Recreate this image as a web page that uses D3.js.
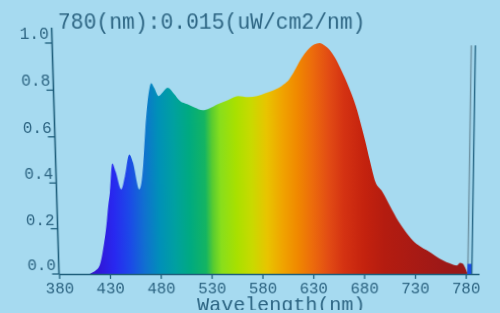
<!DOCTYPE html>
<html><head><meta charset="utf-8">
<script src="https://cdn.jsdelivr.net/npm/d3@7"></script>
<style>
html,body{margin:0;padding:0;background:#a6daf0;overflow:hidden;width:500px;height:313px}
svg{display:block;transform-origin:250px 156.5px;transform:perspective(800px) rotateX(-5deg) skewX(0.5deg)}
</style></head>
<body>
<svg id="c" width="500" height="313"></svg>
<script>
// ---- data ----
const titleText = "780(nm):0.015(uW/cm2/nm)";
const xLabel = "Wavelength(nm)";
const xTicks = [380, 430, 480, 530, 580, 630, 680, 730, 780];
const yTicks = [0.0, 0.2, 0.4, 0.6, 0.8, 1.0];
const wavelengths = [405, 410, 412.4, 416, 420.3, 424, 428.2, 430, 432, 435, 438, 443, 447, 451.7, 455, 460.6, 462.6, 465, 467.5, 471.4, 474.3, 477, 481.2, 485, 490, 496, 501.9, 508.7, 516, 523.5, 530, 538.2, 548, 557.9, 567.7, 576, 584.4, 592, 597.2, 602, 607, 612, 616.9, 622, 626.7, 631, 636.5, 641, 646.3, 651, 656.2, 661, 666, 672.9, 676, 680.7, 685, 690.6, 697, 705, 713.2, 720, 727.9, 735, 741.7, 750, 757.4, 764, 771.2, 774, 777, 779, 781, 782];
const intensity =   [0, 0, 0.005, 0.015, 0.04, 0.11, 0.23, 0.30, 0.36, 0.485, 0.45, 0.372, 0.43, 0.524, 0.49, 0.372, 0.394, 0.48, 0.62, 0.78, 0.83, 0.81, 0.775, 0.79, 0.81, 0.785, 0.753, 0.74, 0.725, 0.714, 0.722, 0.74, 0.758, 0.775, 0.77, 0.775, 0.788, 0.80, 0.81, 0.825, 0.845, 0.88, 0.92, 0.955, 0.978, 0.993, 1.0, 0.99, 0.97, 0.94, 0.896, 0.85, 0.797, 0.71, 0.66, 0.58, 0.50, 0.405, 0.365, 0.30, 0.234, 0.19, 0.147, 0.122, 0.104, 0.08, 0.06, 0.047, 0.038, 0.05, 0.045, 0.03, 0.01, 0];
const colorStopsNm = [400, 420, 435, 450, 465, 480, 495, 510, 525, 532, 540, 555, 570, 585, 600, 615, 630, 645, 660, 680, 700, 730, 760, 790];
const colorStops = ["#3a10c0", "#3018d8", "#2828f0", "#1c48e8", "#1070d0", "#0090b8", "#00a0a0", "#00aa80", "#14b462", "#58cc30", "#88de1c", "#a8e000", "#c8da00", "#e8c400", "#f0a400", "#f08800", "#ec6a0c", "#e24c14", "#d43212", "#c4220e", "#b41c10", "#a81a14", "#9c1818", "#941818"];
const cursorNm = 780;
const cursorTop = 0.99;
const cursorBar = 0.045;

// ---- layout ----
const svg = d3.select("#c");
const axisColor = "#1f5f7c";
const textColor = "#2c6482";
const x = d3.scaleLinear().domain([380, 793]).range([55.5, 481]);
const y = d3.scaleLinear().domain([0, 1]).range([276, 44]);

// gradient
const defs = svg.append("defs");
const grad = defs.append("linearGradient").attr("id", "spec")
  .attr("gradientUnits", "userSpaceOnUse")
  .attr("x1", x(380)).attr("x2", x(793)).attr("y1", 0).attr("y2", 0);
colorStopsNm.forEach((nm, i) => {
  grad.append("stop").attr("offset", (nm - 380) / (793 - 380)).attr("stop-color", colorStops[i]);
});

const pts = wavelengths.map((w, i) => [w, intensity[i]]);
const area = d3.area().x(d => x(d[0])).y0(y(0)).y1(d => y(d[1])).curve(d3.curveMonotoneX);
svg.append("path").datum(pts).attr("d", area).attr("fill", "url(#spec)");

// axes
const gx = svg.append("g").attr("transform", `translate(0,${y(0)})`)
  .call(d3.axisBottom(x).tickValues(xTicks).tickSize(5).tickSizeOuter(0).tickFormat(d3.format("d")));
gx.select(".domain").attr("stroke", axisColor).attr("stroke-width", 1.6);
gx.selectAll(".tick line").attr("stroke", axisColor).attr("stroke-width", 1.3);
gx.selectAll(".tick text").attr("fill", textColor).attr("font-family", "Liberation Mono, monospace")
  .attr("font-size", 16).attr("dy", 0).attr("y", 20);

const gy = svg.append("g").attr("transform", `translate(${x(380)},0)`);
gy.append("line").attr("x1", 0).attr("x2", 0).attr("y1", 29).attr("y2", y(0))
  .attr("stroke", axisColor).attr("stroke-width", 1.6);
gy.selectAll(".yt").data(yTicks).join("line").attr("class", "yt")
  .attr("x1", -7).attr("x2", 0).attr("y1", d => y(d)).attr("y2", d => y(d))
  .attr("stroke", axisColor).attr("stroke-width", 1.3);
gy.selectAll(".yl").data(yTicks).join("text").attr("class", "yl")
  .attr("x", -3).attr("y", d => y(d) - 4).attr("text-anchor", "end")
  .attr("fill", textColor).attr("font-family", "Liberation Mono, monospace").attr("font-size", 16)
  .text(d => d3.format(".1f")(d));

// cursor
const cx = x(cursorNm);
svg.append("line").attr("x1", cx + 2).attr("x2", cx + 2).attr("y1", y(cursorTop)).attr("y2", y(0))
  .attr("stroke", "#6f95a6").attr("stroke-width", 1.5);
svg.append("line").attr("x1", cx + 6).attr("x2", cx + 6).attr("y1", y(cursorTop)).attr("y2", y(0))
  .attr("stroke", "#2b6b8a").attr("stroke-width", 1.5);
svg.append("rect").attr("x", cx + 1.5).attr("width", 4).attr("y", y(cursorBar)).attr("height", y(0) - y(cursorBar))
  .attr("fill", "#1a4fe0");

// title & label
svg.append("text").attr("x", 62).attr("y", 30).attr("fill", textColor)
  .attr("font-family", "Liberation Mono, monospace").attr("font-size", 22)
  .attr("textLength", 303).attr("lengthAdjust", "spacingAndGlyphs").text(titleText);
svg.append("text").attr("x", 195).attr("y", 314).attr("fill", textColor)
  .attr("font-family", "Liberation Mono, monospace").attr("font-size", 20)
  .attr("textLength", 171).attr("lengthAdjust", "spacingAndGlyphs").text(xLabel);
</script>
</body></html>
